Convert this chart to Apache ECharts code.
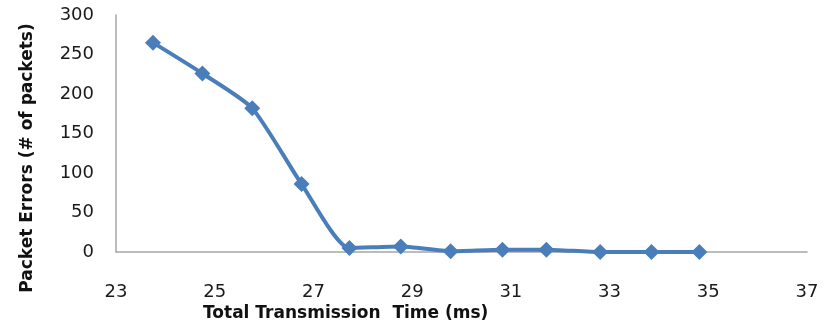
<!DOCTYPE html>
<html>
<head>
<meta charset="utf-8">
<script src="https://cdn.jsdelivr.net/npm/echarts@6/dist/echarts.min.js"></script>
<style>html,body{margin:0;padding:0;background:#fff}#c{width:837px;height:328px}</style>
</head>
<body>
<div id="c"></div>
<script>
var timeMs = [23.75, 24.75, 25.76, 26.76, 27.73, 28.77, 29.78, 30.83, 31.72, 32.81, 33.85, 34.82];
var packetErrors = [265, 226, 182, 86, 5, 7, 1, 3, 3, 0, 0, 0];
var xTitle = 'Total Transmission  Time (ms)';
var yTitle = 'Packet Errors (# of packets)';

var chart = echarts.init(document.getElementById('c'));
var pts = timeMs.map(function (t, i) { return [t, packetErrors[i]]; });
var fontFam = 'DejaVu Sans';
chart.setOption({
  animation: false,
  grid: { left: 116, right: 30, top: 15, bottom: 76 },
  xAxis: {
    type: 'value', min: 23, max: 37, interval: 1,
    axisLine: { show: true, lineStyle: { color: '#a6a6a6', width: 1.5 } },
    axisTick: { show: false },
    splitLine: { show: false },
    axisLabel: {
      color: '#1a1a1a', fontFamily: fontFam, fontSize: 18, margin: 31,
      formatter: function (v) { return ((v - 23) % 2 === 0) ? String(v) : ''; }
    }
  },
  yAxis: {
    type: 'value', min: 0, max: 300, interval: 50,
    axisLine: { show: true, lineStyle: { color: '#a6a6a6', width: 1.5 } },
    axisTick: { show: false },
    splitLine: { show: false },
    axisLabel: { color: '#1a1a1a', fontFamily: fontFam, fontSize: 18, margin: 22 }
  },
  graphic: [
    { type: 'text', left: 203, top: 305, style: { text: xTitle, fontFamily: fontFam, fontWeight: 'bold', fontSize: 17, fill: '#111' } },
    { type: 'text', x: 28, y: 158, rotation: Math.PI / 2,
      style: { text: yTitle, fontFamily: fontFam, fontWeight: 'bold', fontSize: 17, fill: '#111', align: 'center', verticalAlign: 'middle' } }
  ],
  series: [{
    type: 'line', data: pts, smooth: 0.2,
    symbol: 'diamond', symbolSize: 16,
    lineStyle: { color: '#4a7ebb', width: 4 },
    itemStyle: { color: '#4a7ebb' }
  }]
});
</script>
</body>
</html>
